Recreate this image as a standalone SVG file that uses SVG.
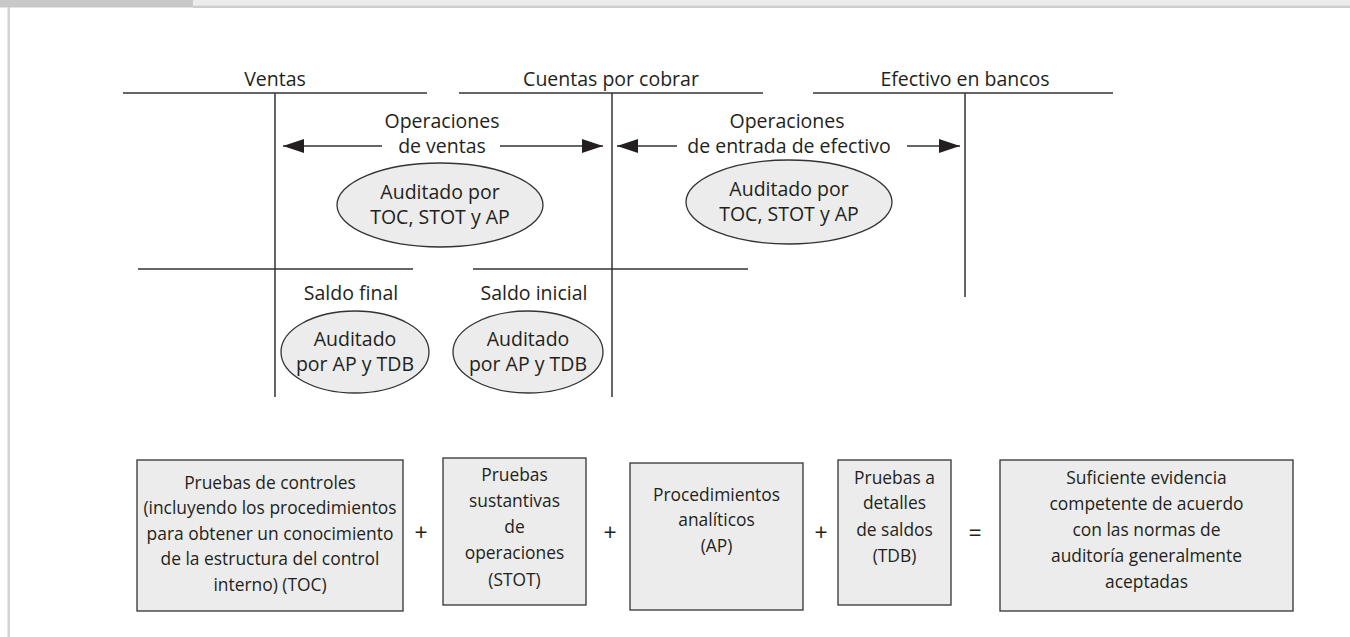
<svg xmlns="http://www.w3.org/2000/svg" width="1350" height="637" viewBox="0 0 1350 637">
<defs>
<style>
text{font-family:"Open Sans","Liberation Sans",sans-serif;fill:#231f20;text-anchor:middle}
.t{font-size:19.5px}
.b{font-size:17.4px}
.s{font-size:23px}
.ln{stroke:#333;stroke-width:1.5;fill:none}
.sh{fill:#ececec;stroke:#333;stroke-width:1.3}
</style>
<marker id="ah" markerUnits="userSpaceOnUse" markerWidth="21" markerHeight="14" refX="21" refY="7" orient="auto">
<path d="M0,0 L21,7 L0,14 z" fill="#231f20"/>
</marker>
</defs>
<rect width="1350" height="637" fill="#fff"/>
<g id="frame">
<rect x="0" y="0" width="193" height="7.5" fill="#c8c8c8"/>
<rect x="193" y="0" width="1157" height="5.5" fill="#ececec"/>
<rect x="193" y="5.5" width="1157" height="2.5" fill="#cdcdcd"/>
<rect x="7.5" y="7" width="2.5" height="630" fill="#d3d3d3"/>
</g>
<g id="connectors">
<line class="ln" x1="123" y1="93" x2="427" y2="93"/>
<line class="ln" x1="459" y1="93" x2="763" y2="93"/>
<line class="ln" x1="813" y1="93" x2="1113" y2="93"/>
<line class="ln" x1="275" y1="93" x2="275" y2="397"/>
<line class="ln" x1="612" y1="93" x2="612" y2="397"/>
<line class="ln" x1="965" y1="93" x2="965" y2="297"/>
<line class="ln" x1="138" y1="269" x2="413" y2="269"/>
<line class="ln" x1="473" y1="269" x2="748" y2="269"/>
<line class="ln" x1="382" y1="146" x2="283" y2="146" marker-end="url(#ah)"/>
<line class="ln" x1="500" y1="146" x2="603" y2="146" marker-end="url(#ah)"/>
<line class="ln" x1="677" y1="146" x2="617" y2="146" marker-end="url(#ah)"/>
<line class="ln" x1="907" y1="146" x2="960" y2="146" marker-end="url(#ah)"/>
</g>
<g id="labels">
<text class="t" x="275" y="86">Ventas</text>
<text class="t" x="611" y="86">Cuentas por cobrar</text>
<text class="t" x="965" y="86">Efectivo en bancos</text>
<text class="t" x="442" y="128">Operaciones</text>
<text class="t" x="442" y="153">de ventas</text>
<text class="t" x="787" y="128">Operaciones</text>
<text class="t" x="789" y="153">de entrada de efectivo</text>
<text class="t" x="351" y="300">Saldo final</text>
<text class="t" x="534" y="300">Saldo inicial</text>
</g>
<g id="e1"><ellipse class="sh" cx="440" cy="205" rx="103" ry="42"/>
<text class="t" x="440" y="199">Auditado por</text><text class="t" x="440" y="224">TOC, STOT y AP</text></g>
<g id="e2"><ellipse class="sh" cx="789" cy="202" rx="103" ry="42"/>
<text class="t" x="789" y="196">Auditado por</text><text class="t" x="789" y="221">TOC, STOT y AP</text></g>
<g id="e3"><ellipse class="sh" cx="355" cy="352" rx="74" ry="41"/>
<text class="t" x="355" y="346">Auditado</text><text class="t" x="355" y="371">por AP y TDB</text></g>
<g id="e4"><ellipse class="sh" cx="528" cy="352" rx="75" ry="41"/>
<text class="t" x="528" y="346">Auditado</text><text class="t" x="528" y="371">por AP y TDB</text></g>
<g id="b1"><rect class="sh" x="137" y="460" width="266" height="151"/>
<text class="b" x="270" y="489">Pruebas de controles</text>
<text class="b" x="270" y="514">(incluyendo los procedimientos</text>
<text class="b" x="270" y="540">para obtener un conocimiento</text>
<text class="b" x="270" y="565">de la estructura del control</text>
<text class="b" x="270" y="591">interno) (TOC)</text></g>
<text class="s" x="421" y="541">+</text>
<g id="b2"><rect class="sh" x="443" y="458" width="143" height="147"/>
<text class="b" x="514.5" y="481">Pruebas</text>
<text class="b" x="514.5" y="507">sustantivas</text>
<text class="b" x="514.5" y="533">de</text>
<text class="b" x="514.5" y="559">operaciones</text>
<text class="b" x="514.5" y="586">(STOT)</text></g>
<text class="s" x="610" y="541">+</text>
<g id="b3"><rect class="sh" x="630" y="463" width="173" height="147"/>
<text class="b" x="716.5" y="501">Procedimientos</text>
<text class="b" x="716.5" y="526">analíticos</text>
<text class="b" x="716.5" y="552">(AP)</text></g>
<text class="s" x="821" y="541">+</text>
<g id="b4"><rect class="sh" x="838" y="460" width="113" height="145"/>
<text class="b" x="894.5" y="484">Pruebas a</text>
<text class="b" x="894.5" y="509">detalles</text>
<text class="b" x="894.5" y="536">de saldos</text>
<text class="b" x="894.5" y="562">(TDB)</text></g>
<text class="s" x="975" y="541">=</text>
<g id="b5"><rect class="sh" x="1000" y="460" width="293" height="151"/>
<text class="b" x="1146.5" y="484">Suficiente evidencia</text>
<text class="b" x="1146.5" y="510">competente de acuerdo</text>
<text class="b" x="1146.5" y="536">con las normas de</text>
<text class="b" x="1146.5" y="562">auditoría generalmente</text>
<text class="b" x="1146.5" y="588">aceptadas</text></g>
</svg>
